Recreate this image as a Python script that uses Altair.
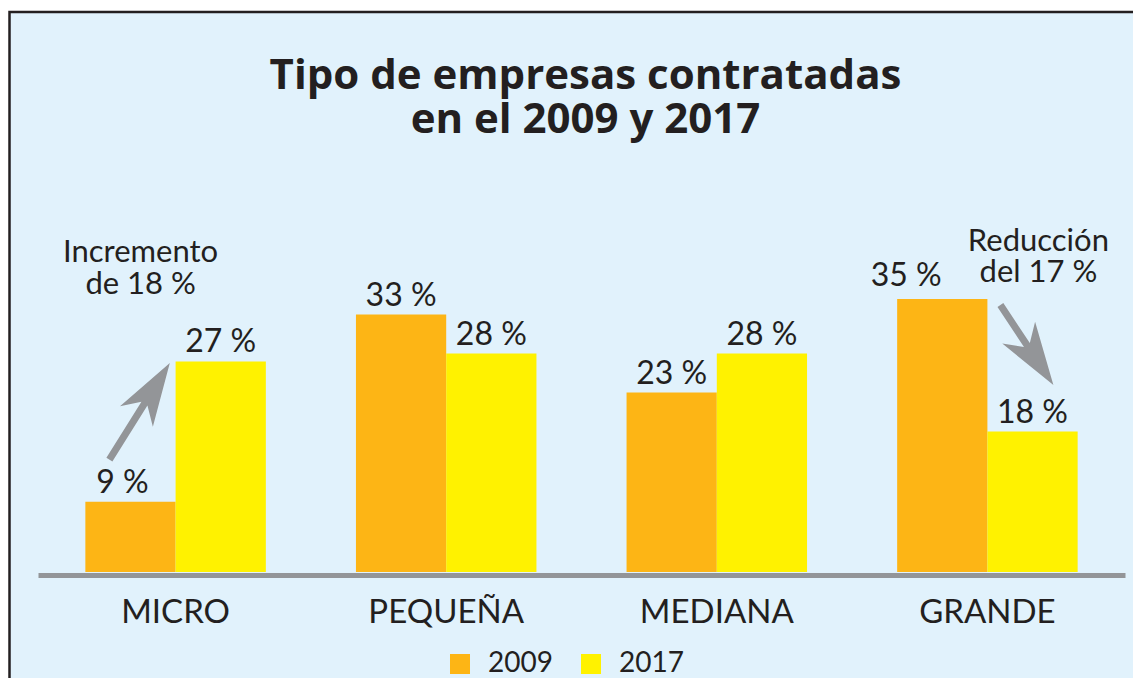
import altair as alt
import pandas as pd

# ---- data ----
categories = ["MICRO", "PEQUEÑA", "MEDIANA", "GRANDE"]
years = ["2009", "2017"]
values_2009 = [9, 33, 23, 35]
values_2017 = [27, 28, 28, 18]

title_lines = ["Tipo de empresas contratadas", "en el 2009 y 2017"]

# annotations: (category, text, y anchor in % units)
ann_increase = {"cat": "MICRO", "text": "Incremento\nde 18 %", "anchor": 39.8}
ann_decrease = {"cat": "GRANDE", "text": "Reducción\ndel 17 %", "anchor": 41.1}
# arrows: (category, midpoint in % units)
arrow_up = {"cat": "MICRO", "mid": 20.6}
arrow_down = {"cat": "GRANDE", "mid": 29.1}

rows = []
for c, a, b in zip(categories, values_2009, values_2017):
    rows.append({"cat": c, "year": "2009", "value": a, "label": f"{a} %"})
    rows.append({"cat": c, "year": "2017", "value": b, "label": f"{b} %"})
df = pd.DataFrame(rows)

# ---- styling ----
FONT = "Lato"
TXT = "#231F20"
ORANGE = "#FDB515"
YELLOW = "#FFF200"
GRAY = "#939598"
BG = "#E1F2FC"

W, H = 1087, 312
PAD = {"left": 30, "top": 252, "right": 8, "bottom": 106}

xenc = alt.X(
    "cat:N",
    sort=categories,
    scale=alt.Scale(paddingInner=0.333, paddingOuter=0.175),
    axis=alt.Axis(
        title=None,
        ticks=False,
        tickSize=0,
        domainColor=GRAY,
        domainWidth=5,
        offset=3,
        labelFont=FONT,
        labelFontSize=33,
        labelColor=TXT,
        labelBaseline="alphabetic",
        labelPadding=47,
        labelAngle=0,
        grid=False,
        zindex=1,
    ),
)
yenc = alt.Y("value:Q", scale=alt.Scale(domain=[0, 40]), axis=None)
xoff = alt.XOffset("year:N", sort=years)

base = alt.Chart(df)

panel = alt.Chart(alt.Data(values=[{"k": 1}])).mark_rect(
    fill=BG, stroke=TXT, strokeWidth=2.5
).encode(
    x=alt.value(-28.5), x2=alt.value(W + 60),
    y=alt.value(-248), y2=alt.value(H + 160),
)

bars = base.mark_bar(cornerRadius=0).encode(
    x=xenc,
    xOffset=xoff,
    y=yenc,
    color=alt.Color(
        "year:N",
        sort=years,
        scale=alt.Scale(domain=years, range=[ORANGE, YELLOW]),
        legend=alt.Legend(
            title=None,
            orient="none",
            legendX=408,
            legendY=390,
            direction="horizontal",
            symbolType="square",
            symbolSize=400,
            symbolStrokeWidth=0,
            labelFont=FONT,
            labelFontSize=28,
            labelColor=TXT,
            labelOffset=14,
            columnPadding=24,
            padding=0,
            zindex=2,
        ),
    ),
)

text_kw = dict(font=FONT, fontSize=32, color=TXT, baseline="alphabetic", align="center")

labels_main = base.transform_filter(
    "!((datum.cat == 'MICRO' && datum.year == '2009') || (datum.cat == 'GRANDE' && datum.year == '2009'))"
).mark_text(dy=-9, **text_kw).encode(x=xenc, xOffset=xoff, y=yenc, text="label:N")

label_micro = base.transform_filter(
    "datum.cat == 'MICRO' && datum.year == '2009'"
).mark_text(dy=-9, dx=-8, **text_kw).encode(x=xenc, xOffset=xoff, y=yenc, text="label:N")

label_grande = base.transform_filter(
    "datum.cat == 'GRANDE' && datum.year == '2009'"
).mark_text(dy=-13, dx=-36, **text_kw).encode(x=xenc, xOffset=xoff, y=yenc, text="label:N")

ann1 = alt.Chart(pd.DataFrame([ann_increase])).mark_text(
    dx=-35, lineBreak="\n", lineHeight=32, font=FONT, fontSize=31, color=TXT,
    baseline="alphabetic", align="center",
).encode(x=alt.X("cat:N", sort=categories), y=alt.Y("anchor:Q"), text="text:N")

ann2 = alt.Chart(pd.DataFrame([ann_decrease])).mark_text(
    dx=51, lineBreak="\n", lineHeight=31, font=FONT, fontSize=31, color=TXT,
    baseline="alphabetic", align="center",
).encode(x=alt.X("cat:N", sort=categories), y=alt.Y("anchor:Q"), text="text:N")

ARROW_UP_PATH = "M0,-1 L0.34,0.105 L0.062,-0.16 L0.062,1 L-0.062,1 L-0.062,-0.16 L-0.34,0.105 Z"
ARROW_DN_PATH = "M0,-1 L0.41,0.31 L0.073,0 L0.073,1 L-0.073,1 L-0.073,0 L-0.41,0.31 Z"

arr1 = alt.Chart(pd.DataFrame([arrow_up])).mark_point(
    shape=ARROW_UP_PATH, size=12996, angle=32, filled=True, fill=GRAY,
    strokeWidth=0, opacity=1, xOffset=-36,
).encode(x=alt.X("cat:N", sort=categories), y=alt.Y("mid:Q"))

arr2 = alt.Chart(pd.DataFrame([arrow_down])).mark_point(
    shape=ARROW_DN_PATH, size=9216, angle=146.5, filled=True, fill=GRAY,
    strokeWidth=0, opacity=1, xOffset=39.5,
).encode(x=alt.X("cat:N", sort=categories), y=alt.Y("mid:Q"))

chart = alt.layer(
    panel, bars, labels_main, label_micro, label_grande, ann1, ann2, arr1, arr2
).properties(
    width=W,
    height=H,
    autosize="none",
    padding=PAD,
    background="white",
    title=alt.TitleParams(
        text=title_lines,
        font="Open Sans",
        fontSize=42,
        fontWeight="bold",
        color=TXT,
        lineHeight=44,
        anchor="middle",
        frame="group",
        offset=-131,
        dx=4,
    ),
).configure_view(strokeWidth=0)

chart.save("out.html", embed_options={"renderer": "svg", "actions": False})
